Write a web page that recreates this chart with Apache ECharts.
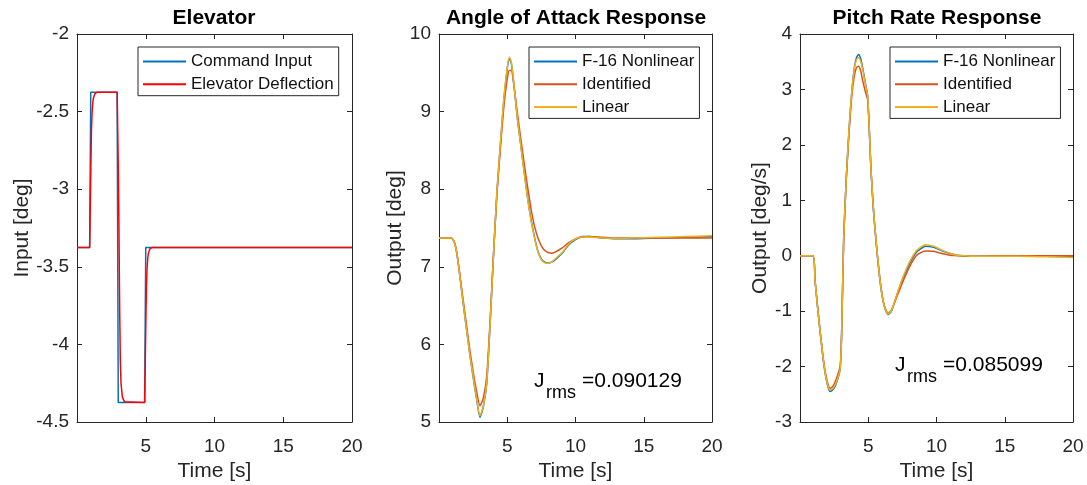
<!DOCTYPE html>
<html>
<head>
<meta charset="utf-8">
<script src="https://cdn.jsdelivr.net/npm/echarts@6/dist/echarts.min.js"></script>
<style>
  html, body { margin: 0; background: #fff; }
  #chart { width: 1087px; height: 485px; }
</style>
</head>
<body>
<div id="chart"></div>
<script>
// elevator doublet
const cmdTime = [0, 0.92, 1.0, 2.92, 3.0, 4.92, 5.0, 20];
const cmdInput = [-3.375, -3.375, -2.375, -2.375, -4.375, -4.375, -3.375, -3.375];
const elevTime = [0, 0.92, 1.0, 1.05, 1.1, 1.15, 1.2, 1.3, 1.45, 2.92, 3.0, 3.05, 3.1, 3.15, 3.2, 3.3, 3.45, 4.92, 5.0, 5.05, 5.1, 5.15, 5.2, 5.3, 5.45, 20];
const elevDefl = [-3.375, -3.375, -2.9, -2.62, -2.5, -2.44, -2.41, -2.385, -2.376, -2.375, -2.85, -3.25, -3.75, -4.1, -4.25, -4.34, -4.37, -4.375, -3.9, -3.62, -3.5, -3.44, -3.41, -3.385, -3.376, -3.375];

// angle of attack
const aoaTime = [0, 0.9, 1.1, 1.3, 1.5, 1.75, 2, 2.25, 2.5, 2.75, 3, 3.25, 3.5, 3.75, 4, 4.25, 4.5, 4.75, 5, 5.15, 5.3, 5.5, 5.75, 6, 6.25, 6.5, 6.75, 7, 7.25, 7.5, 7.75, 8, 8.25, 8.5, 9, 9.5, 10, 10.5, 11, 12, 13, 14, 16, 18, 20];
const aoaNonlinear = [7.37, 7.37, 7.33, 7.18, 6.92, 6.56, 6.22, 5.88, 5.58, 5.30, 5.06, 5.20, 5.50, 6.28, 7.18, 7.98, 8.58, 9.15, 9.55, 9.68, 9.62, 9.33, 8.90, 8.56, 8.21, 7.88, 7.60, 7.38, 7.20, 7.10, 7.06, 7.05, 7.06, 7.09, 7.17, 7.28, 7.35, 7.39, 7.39, 7.37, 7.36, 7.36, 7.37, 7.38, 7.39];
const aoaIdentified = [7.37, 7.37, 7.33, 7.19, 6.94, 6.60, 6.27, 5.94, 5.65, 5.40, 5.21, 5.31, 5.60, 6.33, 7.18, 7.95, 8.53, 9.06, 9.42, 9.53, 9.53, 9.32, 8.97, 8.64, 8.32, 8.02, 7.74, 7.52, 7.37, 7.27, 7.21, 7.185, 7.175, 7.19, 7.24, 7.31, 7.36, 7.385, 7.39, 7.38, 7.37, 7.37, 7.37, 7.37, 7.37];
const aoaLinear = [7.37, 7.37, 7.33, 7.18, 6.92, 6.56, 6.22, 5.88, 5.59, 5.31, 5.08, 5.21, 5.51, 6.28, 7.18, 7.99, 8.60, 9.17, 9.57, 9.70, 9.64, 9.34, 8.90, 8.55, 8.20, 7.87, 7.59, 7.37, 7.19, 7.09, 7.05, 7.045, 7.06, 7.10, 7.18, 7.29, 7.36, 7.385, 7.385, 7.37, 7.365, 7.37, 7.38, 7.39, 7.40];

// pitch rate
const qTime = [0, 0.95, 1.1, 1.3, 1.5, 1.75, 2, 2.2, 2.4, 2.6, 2.8, 2.95, 3.05, 3.2, 3.4, 3.6, 3.8, 4.0, 4.15, 4.3, 4.45, 4.6, 4.8, 4.95, 5.05, 5.2, 5.4, 5.6, 5.8, 6.0, 6.2, 6.45, 6.7, 7.0, 7.4, 7.8, 8.2, 8.6, 9.2, 9.8, 10.4, 11, 11.5, 12, 13, 14, 16, 18, 20];
const qNonlinear = [0, 0, -0.44, -0.96, -1.43, -1.97, -2.32, -2.45, -2.42, -2.34, -2.20, -2.04, -1.40, 0.30, 1.45, 2.30, 2.98, 3.42, 3.58, 3.63, 3.55, 3.38, 3.10, 2.90, 2.45, 1.55, 0.75, 0.18, -0.32, -0.70, -0.93, -1.06, -1.00, -0.78, -0.50, -0.26, -0.06, 0.08, 0.17, 0.15, 0.09, 0.04, 0.01, 0, -0.01, -0.01, 0, -0.01, -0.02];
const qIdentified = [0, 0, -0.44, -0.95, -1.42, -1.94, -2.27, -2.39, -2.36, -2.26, -2.12, -1.98, -1.40, 0.30, 1.42, 2.25, 2.90, 3.27, 3.40, 3.42, 3.33, 3.15, 2.95, 2.82, 2.40, 1.55, 0.78, 0.20, -0.30, -0.68, -0.92, -1.04, -0.98, -0.80, -0.55, -0.32, -0.12, 0.02, 0.085, 0.08, 0.04, 0.01, 0, -0.01, -0.01, 0, 0, 0, 0];
const qLinear = [0, 0, -0.44, -0.96, -1.43, -1.96, -2.30, -2.42, -2.40, -2.32, -2.18, -2.03, -1.40, 0.30, 1.45, 2.32, 2.98, 3.40, 3.54, 3.57, 3.50, 3.35, 3.08, 2.90, 2.45, 1.56, 0.77, 0.20, -0.31, -0.69, -0.93, -1.05, -0.99, -0.77, -0.48, -0.23, -0.03, 0.11, 0.20, 0.17, 0.10, 0.04, 0.01, 0, -0.01, -0.01, -0.01, -0.02, -0.03];

const font = "'Liberation Sans', Arial, sans-serif";
const ink = '#262626';
const blue = '#0072BD', orange = '#D95319', yellow = '#EDB120';

const grids = [
  { left: 77, top: 34, width: 275, height: 388, outerBoundsMode: 'none', containLabel: false },
  { left: 439, top: 34, width: 273, height: 388, outerBoundsMode: 'none', containLabel: false },
  { left: 800, top: 34, width: 273, height: 388, outerBoundsMode: 'none', containLabel: false }
];

function pairs(t, v) {
  return t.map((x, i) => [x, v[i]]);
}

let xAxes = [], yAxes = [];
const yCfg = [
  { name: 'Input [deg]', min: -4.5, max: -2, interval: 0.5, gap: 44 },
  { name: 'Output [deg]', min: 5, max: 10, interval: 1, gap: 33 },
  { name: 'Output [deg/s]', min: -3, max: 4, interval: 1, gap: 29 }
];
yCfg.forEach((c, i) => {
  let common = {
    gridIndex: i, type: 'value', min: 0, max: 20, interval: 5,
    axisLine: { onZero: false, lineStyle: { color: ink, width: 1 } },
    axisTick: { inside: true, length: 5, lineStyle: { color: ink } },
    splitLine: { show: false }
  };
  xAxes.push(Object.assign({}, common, {
    position: 'bottom', name: 'Time [s]', nameLocation: 'middle', nameGap: 37,
    nameTextStyle: { fontSize: 21, color: ink, fontFamily: font },
    axisLabel: { fontSize: 19, color: ink, fontFamily: font, margin: 15,
      formatter: v => (v === 0 ? '' : v) }
  }));
  xAxes.push(Object.assign({}, common, { position: 'top', axisLabel: { show: false } }));
  let yc = {
    gridIndex: i, type: 'value', min: c.min, max: c.max, interval: c.interval,
    axisLine: { show: true, onZero: false, lineStyle: { color: ink, width: 1 } },
    axisTick: { show: true, inside: true, length: 5, lineStyle: { color: ink } },
    splitLine: { show: false }
  };
  yAxes.push(Object.assign({}, yc, {
    position: 'left', name: c.name, nameLocation: 'middle', nameGap: c.gap,
    nameTextStyle: { fontSize: 21, color: ink, fontFamily: font },
    axisLabel: { fontSize: 19, color: ink, fontFamily: font, margin: 8 }
  }));
  yAxes.push(Object.assign({}, yc, { position: 'right', axisLabel: { show: false } }));
});

function line(name, color, data, i, smooth) {
  return {
    name: name, type: 'line', xAxisIndex: i * 2, yAxisIndex: i * 2,
    data: data, symbol: 'none', smooth: smooth, animation: false,
    lineStyle: { color: color, width: 1.5 }, itemStyle: { color: color }
  };
}

const legendBase = {
  orient: 'vertical', icon: 'rect', itemWidth: 43, itemHeight: 2, itemGap: 5.7,
  padding: [6, 5, 3, 5], borderColor: ink, borderWidth: 1, borderRadius: 0,
  backgroundColor: '#fff', selectedMode: false,
  textStyle: { fontSize: 17, color: '#111', fontFamily: font }
};

const titleBase = { top: 8, textAlign: 'center', padding: 0,
  textStyle: { fontSize: 21, fontWeight: 'bold', color: '#000', fontFamily: font } };

function jText(x, y, val) {
  return [
    { type: 'text', left: x, top: y, style: { text: 'J', fontSize: 21, fill: '#000', fontFamily: font } },
    { type: 'text', left: x + 12, top: y + 13, style: { text: 'rms', fontSize: 18, fill: '#000', fontFamily: font } },
    { type: 'text', left: x + 48, top: y, style: { text: '=' + val, fontSize: 21, fill: '#000', fontFamily: font } }
  ];
}

let chart = echarts.init(document.getElementById('chart'));
chart.setOption({
  animation: false,
  backgroundColor: '#fff',
  grid: grids,
  xAxis: xAxes,
  yAxis: yAxes,
  title: [
    Object.assign({ text: 'Elevator', left: 214 }, titleBase),
    Object.assign({ text: 'Angle of Attack Response', left: 576 }, titleBase),
    Object.assign({ text: 'Pitch Rate Response', left: 937 }, titleBase)
  ],
  legend: [
    Object.assign({ left: 138, top: 47, data: ['Command Input', 'Elevator Deflection'] }, legendBase),
    Object.assign({ left: 529, top: 47, data: ['F-16 Nonlinear', 'Identified', 'Linear'] }, legendBase),
    Object.assign({ left: 890, top: 47, data: ['F-16 Nonlinear', 'Identified', 'Linear'] }, legendBase)
  ],
  graphic: [].concat(jText(534, 371, '0.090129'), jText(895, 355, '0.085099')),
  series: [
    line('Command Input', blue, pairs(cmdTime, cmdInput), 0, false),
    line('Elevator Deflection', '#FF0000', pairs(elevTime, elevDefl), 0, false),
    line('F-16 Nonlinear', blue, pairs(aoaTime, aoaNonlinear), 1, 0.2),
    line('Identified', orange, pairs(aoaTime, aoaIdentified), 1, 0.2),
    line('Linear', yellow, pairs(aoaTime, aoaLinear), 1, 0.2),
    line('F-16 Nonlinear', blue, pairs(qTime, qNonlinear), 2, 0.2),
    line('Identified', orange, pairs(qTime, qIdentified), 2, 0.2),
    line('Linear', yellow, pairs(qTime, qLinear), 2, 0.2)
  ]
});
</script>
</body>
</html>
